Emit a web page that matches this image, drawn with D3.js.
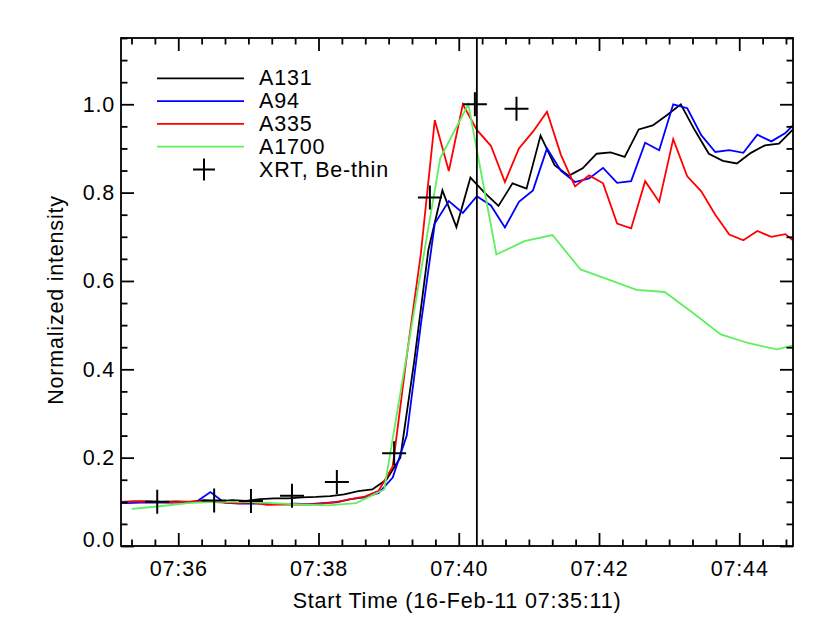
<!DOCTYPE html>
<html>
<head>
<meta charset="utf-8">
<script src="https://cdn.jsdelivr.net/npm/d3@7.9.0/dist/d3.min.js"></script>
<style>
  body { margin: 0; background: #fff; }
  svg text { font-family: "Liberation Sans", Arial, Helvetica, sans-serif; font-size: 21.5px; letter-spacing: 0.8px; fill: #000; }
</style>
</head>
<body>
<svg id="chart" width="830" height="623"></svg>
<script>
// start of the plot: 16-Feb-11 07:35:11 UT, times below are seconds after it
const startTime = new Date(Date.UTC(2011, 1, 16, 7, 35, 11));
const endOffset = 575;
const markerOffset = 304.5;

// AIA 12 s cadence channels (A94 / A335 share a time grid, A131 is offset)
const a335Start = -7.5, a94Start = -7.5, a131Start = -1, a1700Start = 9.2;
const cadence12 = 12, cadence24 = 24;

const a131 = [0.100, 0.101, 0.101, 0.100, 0.101, 0.100, 0.103, 0.101, 0.104, 0.102,
  0.106, 0.108, 0.108, 0.110, 0.111, 0.113, 0.117, 0.124, 0.128, 0.150,
  0.200, 0.420, 0.670, 0.805, 0.722, 0.834, 0.800, 0.770, 0.821, 0.809,
  0.929, 0.862, 0.838, 0.855, 0.888, 0.891, 0.881, 0.943, 0.952, 0.975,
  1.000, 0.941, 0.888, 0.872, 0.866, 0.890, 0.907, 0.911, 0.943];

const a94 = [0.097, 0.097, 0.098, 0.098, 0.099, 0.098, 0.100, 0.122, 0.098, 0.096,
  0.096, 0.096, 0.095, 0.096, 0.095, 0.097, 0.099, 0.106, 0.110, 0.120,
  0.155, 0.250, 0.500, 0.730, 0.781, 0.754, 0.792, 0.771, 0.721, 0.779,
  0.805, 0.900, 0.849, 0.824, 0.832, 0.856, 0.822, 0.826, 0.913, 0.896,
  1.000, 0.991, 0.930, 0.892, 0.896, 0.890, 0.931, 0.916, 0.935, 0.967];

const a335 = [0.100, 0.100, 0.101, 0.100, 0.099, 0.100, 0.101, 0.100, 0.098, 0.097,
  0.099, 0.093, 0.094, 0.094, 0.094, 0.096, 0.100, 0.106, 0.112, 0.125,
  0.180, 0.430, 0.660, 0.964, 0.849, 1.000, 0.942, 0.906, 0.824, 0.900,
  0.938, 0.983, 0.885, 0.814, 0.839, 0.821, 0.730, 0.719, 0.826, 0.779,
  0.921, 0.837, 0.803, 0.750, 0.705, 0.692, 0.713, 0.700, 0.706, 0.680];

const a1700 = [0.084, 0.090, 0.097, 0.100, 0.100, 0.097, 0.094, 0.092, 0.097, 0.128,
  0.507, 0.878, 1.000, 0.660, 0.690, 0.704, 0.626, 0.603, 0.580, 0.575,
  0.528, 0.479, 0.459, 0.445, 0.461];

// XRT Be-thin, irregular cadence
const xrtTimes = [31.0, 79.7, 111.2, 146.3, 184.7, 233.7, 264.3, 302.8, 338.4];
const xrtValues = [0.100, 0.103, 0.102, 0.114, 0.145, 0.210, 0.789, 1.000, 0.990];

const series = [
  { name: 'A131', color: '#000000', start: a131Start, step: cadence12, values: a131 },
  { name: 'A94', color: '#0000ff', start: a94Start, step: cadence12, values: a94 },
  { name: 'A335', color: '#ff0000', start: a335Start, step: cadence12, values: a335 },
  { name: 'A1700', color: '#5ef05e', start: a1700Start, step: cadence24, values: a1700 }
];

const at = s => new Date(startTime.getTime() + s * 1000);

const svg = d3.select('#chart');
const margin = { left: 121, right: 37, top: 38, bottom: 77 };
const W = 830, H = 623;

const x = d3.scaleUtc()
  .domain([startTime, at(endOffset)])
  .range([margin.left, W - margin.right]);
const y = d3.scaleLinear()
  .domain([0, 1.15])
  .range([H - margin.bottom, margin.top]);

const plotBottom = H - margin.bottom, plotTop = margin.top;
const plotLeft = margin.left, plotRight = W - margin.right;
const lw = 1.8;

svg.append('rect').attr('width', W).attr('height', H).attr('fill', '#fff');

svg.append('clipPath').attr('id', 'plot-clip')
  .append('rect')
  .attr('x', plotLeft).attr('y', plotTop)
  .attr('width', plotRight - plotLeft)
  .attr('height', plotBottom - plotTop);

const plot = svg.append('g').attr('clip-path', 'url(#plot-clip)');

const line = d3.line().x(d => x(d.t)).y(d => y(d.v));

series.forEach(s => {
  const pts = s.values.map((v, i) => ({ t: at(s.start + i * s.step), v }));
  plot.append('path')
    .datum(pts)
    .attr('d', line)
    .attr('fill', 'none')
    .attr('stroke', s.color)
    .attr('stroke-width', lw)
    .attr('stroke-linejoin', 'miter');
});

// XRT crosses
const cross = 12;
plot.selectAll('path.xrt')
  .data(xrtTimes.map((t, i) => ({ t: at(t), v: xrtValues[i] })))
  .enter()
  .append('path')
  .attr('class', 'xrt')
  .attr('d', d => {
    const cx = x(d.t), cy = y(d.v);
    return `M${cx - cross},${cy}H${cx + cross}M${cx},${cy - cross}V${cy + cross}`;
  })
  .attr('stroke', '#000')
  .attr('stroke-width', 2)
  .attr('fill', 'none');

// vertical marker
svg.append('line')
  .attr('x1', x(at(markerOffset))).attr('x2', x(at(markerOffset)))
  .attr('y1', plotBottom).attr('y2', plotTop)
  .attr('stroke', '#000').attr('stroke-width', lw);

// axes: ticks point inwards on all four sides
const major = 13, minor = 6.5;
const yMajor = [0, 0.2, 0.4, 0.6, 0.8, 1.0];
const yMinor = d3.range(0, 1.151, 0.05).filter(v => Math.abs(v * 5 - Math.round(v * 5)) > 1e-6);
const xMajor = d3.utcMinute.every(2);
const xMinor = x.ticks(d3.utcSecond.every(20)).filter(d => d.getUTCSeconds() !== 0 || d.getUTCMinutes() % 2 !== 0);

function styleAxis(g) {
  g.select('.domain').remove();
  g.selectAll('line').attr('stroke', '#000').attr('stroke-width', lw);
  g.selectAll('text').attr('fill', '#000').attr('font-size', null).attr('font-family', null);
}

svg.append('g').attr('transform', `translate(0,${plotBottom})`)
  .call(d3.axisBottom(x).ticks(xMajor).tickFormat(d3.utcFormat('%H:%M')).tickSize(-major).tickPadding(15))
  .call(styleAxis);
svg.append('g').attr('transform', `translate(0,${plotBottom})`)
  .call(d3.axisBottom(x).tickValues(xMinor).tickFormat('').tickSize(-minor))
  .call(styleAxis);
svg.append('g').attr('transform', `translate(0,${plotTop})`)
  .call(d3.axisTop(x).ticks(xMajor).tickFormat('').tickSize(-major))
  .call(styleAxis);
svg.append('g').attr('transform', `translate(0,${plotTop})`)
  .call(d3.axisTop(x).tickValues(xMinor).tickFormat('').tickSize(-minor))
  .call(styleAxis);

const yAxis = svg.append('g').attr('transform', `translate(${plotLeft},0)`)
  .call(d3.axisLeft(y).tickValues(yMajor).tickFormat(d3.format('.1f')).tickSize(-major).tickPadding(6))
  .call(styleAxis);
yAxis.selectAll('text').filter(d => d === 0).attr('dy', '0.04em');
svg.append('g').attr('transform', `translate(${plotLeft},0)`)
  .call(d3.axisLeft(y).tickValues(yMinor).tickFormat('').tickSize(-minor))
  .call(styleAxis);
svg.append('g').attr('transform', `translate(${plotRight},0)`)
  .call(d3.axisRight(y).tickValues(yMajor).tickFormat('').tickSize(-major))
  .call(styleAxis);
svg.append('g').attr('transform', `translate(${plotRight},0)`)
  .call(d3.axisRight(y).tickValues(yMinor).tickFormat('').tickSize(-minor))
  .call(styleAxis);

svg.append('rect')
  .attr('x', plotLeft).attr('y', plotTop)
  .attr('width', plotRight - plotLeft).attr('height', plotBottom - plotTop)
  .attr('fill', 'none').attr('stroke', '#000').attr('stroke-width', lw);

svg.append('text')
  .attr('x', (plotLeft + plotRight) / 2).attr('y', 608)
  .attr('text-anchor', 'middle')
  .text('Start Time (16-Feb-11 07:35:11)');

svg.append('text')
  .attr('transform', `translate(63,${(plotTop + plotBottom) / 2 + 8}) rotate(-90)`)
  .attr('text-anchor', 'middle')
  .text('Normalized intensity');

// legend
const legend = svg.append('g');
const rowH = 22.8, legY = 78.3;
const legendItems = series.map(s => ({ name: s.name, color: s.color, kind: 'line' }))
  .concat([{ name: 'XRT, Be-thin', color: '#000', kind: 'cross' }]);

legendItems.forEach((d, i) => {
  const ly = legY + i * rowH;
  if (d.kind === 'line') {
    legend.append('line')
      .attr('x1', 157).attr('x2', 244).attr('y1', ly).attr('y2', ly)
      .attr('stroke', d.color).attr('stroke-width', lw);
  } else {
    legend.append('path')
      .attr('d', `M${204 - 11},${ly}H${204 + 11}M204,${ly - 11}V${ly + 11}`)
      .attr('stroke', '#000').attr('stroke-width', 2);
  }
  legend.append('text')
    .attr('x', 259).attr('y', ly + 7)
    .text(d.name);
});
</script>
</body>
</html>
